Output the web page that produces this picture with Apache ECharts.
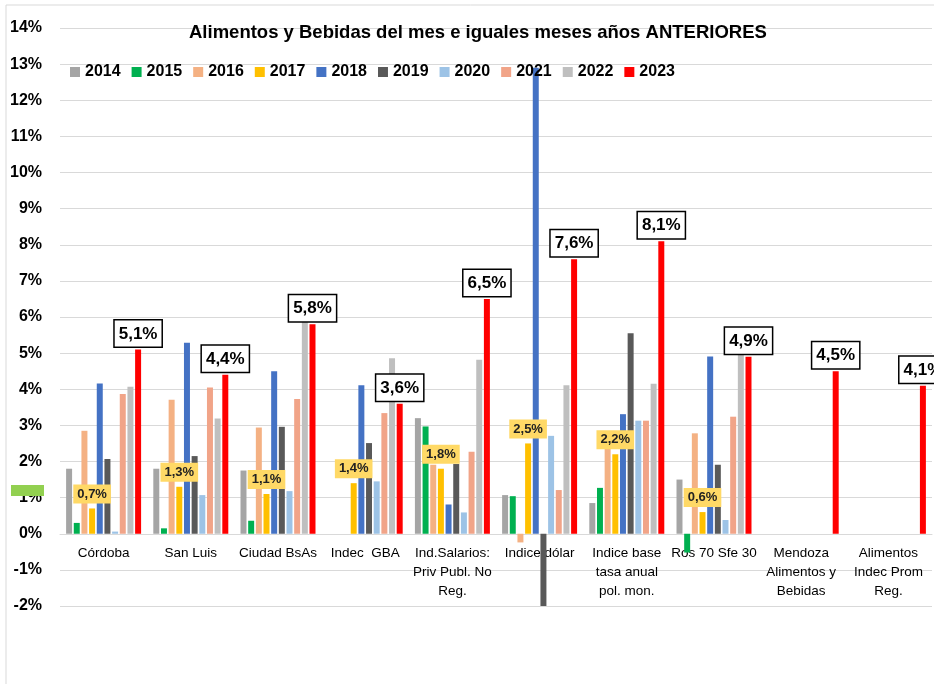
<!DOCTYPE html>
<html>
<head>
<meta charset="utf-8">
<title>Alimentos y Bebidas</title>
<script src="https://cdn.jsdelivr.net/npm/echarts@6/dist/echarts.min.js"></script>
<style>
  html, body { margin: 0; padding: 0; background: #fff; }
  #chart { width: 934px; height: 684px; }
</style>
</head>
<body>
<div id="chart"></div>
<script>
// categorias (eje x)
const categories = [
  "Córdoba",
  "San Luis",
  "Ciudad BsAs",
  "Indec  GBA",
  "Ind.Salarios:\nPriv Publ. No\nReg.",
  "Indice dólar",
  "Indice base\ntasa anual\npol. mon.",
  "Ros 70 Sfe 30",
  "Mendoza\nAlimentos y\nBebidas",
  "Alimentos\nIndec Prom\nReg."
];
const years = ["2014", "2015", "2016", "2017", "2018", "2019", "2020", "2021", "2022", "2023"];

// valores (%)
const v2014 = [1.8, 1.8, 1.75, null, 3.2, 1.07, 0.85, 1.5, null, null];
const v2015 = [0.3, 0.15, 0.36, null, 2.97, 1.04, 1.27, -0.52, null, null];
const v2016 = [2.85, 3.71, 2.94, null, 1.91, -0.24, 2.5, 2.78, null, null];
const v2017 = [0.7, 1.3, 1.1, 1.4, 1.8, 2.5, 2.2, 0.6, null, null];
const v2018 = [4.16, 5.29, 4.5, 4.11, 0.81, 12.9, 3.31, 4.91, null, null];
const v2019 = [2.07, 2.15, 2.96, 2.51, 1.93, -2.6, 5.55, 1.91, null, null];
const v2020 = [0.06, 1.07, 1.18, 1.45, 0.59, 2.71, 3.13, 0.38, null, null];
const v2021 = [3.87, 4.05, 3.73, 3.34, 2.27, 1.21, 3.13, 3.24, null, null];
const v2022 = [4.07, 3.19, 6.5, 4.86, 4.82, 4.11, 4.15, 5.2, null, null];
const v2023 = [5.1, 4.4, 5.8, 3.6, 6.5, 7.6, 8.1, 4.9, 4.5, 4.1];

const allValues = [v2014, v2015, v2016, v2017, v2018, v2019, v2020, v2021, v2022, v2023];
const colors = ["#A5A5A5", "#00B050", "#F4B183", "#FFC000", "#4472C4",
                "#595959", "#9DC3E6", "#F1A488", "#BFBFBF", "#FF0000"];

const font = "Liberation Sans";
const fmt = (p) => p.value.toFixed(1).replace(".", ",") + "%";

const series = years.map((y, i) => {
  const s = {
    name: y,
    type: "bar",
    data: allValues[i],
    itemStyle: { color: colors[i] },
    barGap: "28%",
    barCategoryGap: "14%",
    clip: true
  };
  if (y === "2017") {
    s.label = {
      show: true,
      position: "top",
      distance: 5,
      formatter: fmt,
      fontFamily: font,
      fontWeight: "bold",
      fontSize: 13,
      color: "#222",
      backgroundColor: "#FFD966",
      padding: [3, 4, 3, 4]
    };
  }
  if (y === "2023") {
    s.label = {
      show: true,
      position: "top",
      distance: 3,
      formatter: fmt,
      fontFamily: font,
      fontWeight: "bold",
      fontSize: 17,
      color: "#000",
      backgroundColor: "#fff",
      borderColor: "#000",
      borderWidth: 1.5,
      padding: [5, 4, 4, 4]
    };
  }
  return s;
});

const chart = echarts.init(document.getElementById("chart"));
chart.setOption({
  animation: false,
  title: {
    text: "Alimentos y Bebidas del mes e iguales meses años ANTERIORES",
    left: 184,
    top: 18,
    textStyle: { fontFamily: font, fontWeight: "bold", fontSize: 18.5, color: "#000" }
  },
  legend: {
    data: years,
    left: 65,
    top: 59,
    itemWidth: 10,
    itemHeight: 10,
    itemGap: 11,
    icon: "rect",
    textStyle: { fontFamily: font, fontWeight: "bold", fontSize: 16, color: "#000" }
  },
  grid: { left: 60, right: 2, top: 28, bottom: 78, containLabel: false },
  xAxis: {
    type: "category",
    data: categories,
    // el eje se dibuja en la linea del 0%
    offset: -72,
    axisLine: { show: true, onZero: false, lineStyle: { color: "#D9D9D9" } },
    axisTick: { show: false },
    axisLabel: {
      interval: 0,
      margin: 10,
      fontFamily: font,
      fontSize: 13.5,
      color: "#000",
      lineHeight: 19
    }
  },
  yAxis: {
    type: "value",
    min: -2,
    max: 14,
    interval: 1,
    axisLine: { show: false },
    axisTick: { show: false },
    splitLine: { lineStyle: { color: "#D9D9D9", width: 1 } },
    axisLabel: {
      formatter: "{value}%",
      margin: 18,
      fontFamily: font,
      fontWeight: "bold",
      fontSize: 16,
      color: "#000"
    }
  },
  graphic: [
    {
      type: "rect",
      shape: { x: 6, y: 5, width: 940, height: 700 },
      style: { fill: null, stroke: "#D9D9D9", lineWidth: 1 },
      silent: true
    },
    {
      type: "rect",
      shape: { x: 11, y: 485, width: 33, height: 11 },
      style: { fill: "#92D050" },
      z: 10,
      silent: true
    }
  ],
  series: series
});
</script>
</body>
</html>
